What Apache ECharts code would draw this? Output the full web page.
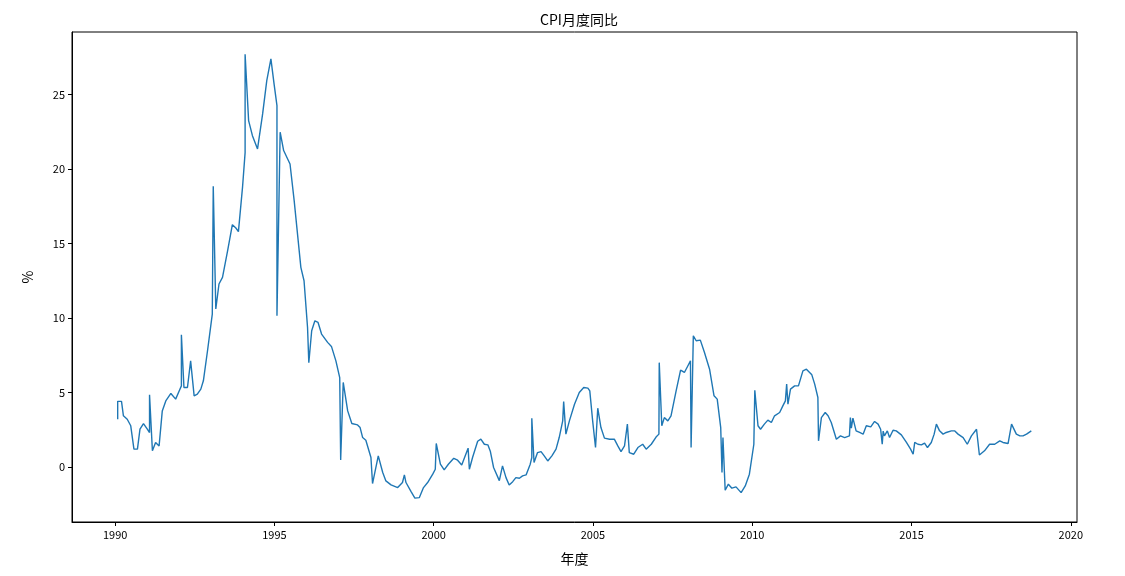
<!DOCTYPE html>
<html>
<head>
<meta charset="utf-8">
<script src="https://cdn.jsdelivr.net/npm/echarts@6/dist/echarts.min.js"></script>
<style>
html,body{margin:0;padding:0;background:#fff;}
#chart{width:1125px;height:576px;}
</style>
</head>
<body>
<div id="chart"></div>
<script>
// decimal-year positions of the monthly observations (as plotted in the source)
const years = [
1990.08,1990.08,1990.20,1990.26,1990.38,1990.49,1990.59,1990.70,1990.78,1990.89,1991.01,
1991.08,1991.08,1991.17,1991.27,1991.38,1991.48,1991.59,1991.75,1991.80,1991.90,1992.01,
1992.08,1992.08,1992.16,1992.27,1992.37,1992.48,1992.58,1992.69,1992.77,1992.90,1993.05,
1993.08,1993.16,1993.26,1993.37,1993.53,1993.68,1993.79,1993.87,1994.00,
1994.08,1994.08,1994.19,1994.31,1994.47,1994.63,1994.76,1994.89,1994.99,
1995.08,1995.08,1995.18,1995.29,1995.49,1995.62,1995.83,1995.93,1996.04,
1996.08,1996.17,1996.27,1996.37,1996.48,1996.67,1996.79,1996.93,1997.05,
1997.08,1997.16,1997.30,1997.43,1997.61,1997.69,1997.77,1997.87,1998.03,
1998.08,1998.26,1998.40,1998.50,1998.66,1998.87,1999.02,
1999.08,1999.13,1999.29,1999.41,1999.55,1999.68,1999.81,1999.97,2000.05,
2000.08,2000.21,2000.33,2000.46,2000.63,2000.75,2000.88,
2001.08,2001.12,2001.22,2001.38,2001.48,2001.59,2001.70,2001.78,2001.88,2002.06,
2002.16,2002.27,2002.37,2002.48,2002.58,2002.69,2002.79,2002.90,2003.03,
2003.08,2003.08,2003.15,2003.26,2003.37,2003.47,2003.58,2003.71,2003.84,2003.94,2004.05,
2004.08,2004.15,2004.26,2004.42,2004.57,2004.71,2004.84,2004.90,2004.99,
2005.08,2005.15,2005.25,2005.36,2005.52,2005.67,2005.78,2005.88,2005.99,
2006.08,2006.14,2006.28,2006.41,2006.56,2006.67,2006.83,2006.98,2007.07,
2007.08,2007.16,2007.24,2007.35,2007.45,2007.61,2007.75,2007.87,2007.98,2008.06,
2008.08,2008.15,2008.24,2008.37,2008.50,2008.66,2008.80,2008.90,2009.01,
2009.05,2009.08,2009.15,2009.25,2009.36,2009.49,2009.65,2009.78,2009.91,2010.05,
2010.08,2010.18,2010.26,2010.38,2010.49,2010.60,2010.70,2010.86,2010.96,2011.04,
2011.08,2011.12,2011.20,2011.33,2011.45,2011.59,2011.70,2011.87,2011.96,2012.06,
2012.08,2012.17,2012.29,2012.38,2012.48,2012.64,2012.77,2012.90,2013.05,
2013.08,2013.11,2013.16,2013.26,2013.37,2013.48,2013.58,2013.72,2013.84,2013.95,2014.03,
2014.08,2014.11,2014.15,2014.24,2014.31,2014.42,2014.52,2014.68,2014.84,2014.97,
2015.05,2015.10,2015.20,2015.31,2015.41,2015.50,2015.62,2015.71,2015.78,2015.88,2015.99,
2016.09,2016.25,2016.35,2016.46,2016.62,2016.75,2016.88,2017.04,
2017.08,2017.13,2017.29,2017.45,2017.61,2017.77,2017.87,2018.03,
2018.14,2018.29,2018.40,2018.50,2018.61,2018.76
];
// CPI year-on-year values, %
const values = [
3.2,4.4,4.4,3.43,3.2,2.76,1.19,1.19,2.53,2.91,2.53,
2.31,4.84,1.08,1.64,1.41,3.76,4.43,4.93,4.93,4.55,5.1,
5.44,8.87,5.33,5.33,7.12,4.77,4.88,5.22,5.78,7.8,10.26,
18.84,10.6,12.28,12.72,14.5,16.26,16.04,15.8,18.8,
21.1,27.7,23.25,22.24,21.35,23.7,25.94,27.4,25.7,
24.26,10.15,22.47,21.24,20.34,17.88,13.4,12.5,9.36,
7.0,9.14,9.81,9.7,8.92,8.36,8.09,7.12,6.0,
0.47,5.67,3.76,2.91,2.82,2.64,1.97,1.79,0.63,
-1.12,0.74,-0.38,-0.94,-1.21,-1.39,-1.05,
-0.54,-1.05,-1.66,-2.1,-2.06,-1.39,-1.05,-0.49,-0.16,
1.57,0.18,-0.2,0.18,0.58,0.45,0.13,
1.26,-0.16,0.63,1.72,1.86,1.52,1.48,1.03,-0.04,-0.92,
0.07,-0.72,-1.21,-0.99,-0.72,-0.76,-0.6,-0.54,0.18,
0.63,3.27,0.29,0.96,1.03,0.74,0.4,0.74,1.19,1.97,3.09,
4.39,2.2,3.09,4.21,4.99,5.33,5.29,5.1,3.09,
1.3,3.94,2.64,1.93,1.86,1.86,1.41,1.03,1.41,
2.87,0.96,0.85,1.3,1.52,1.19,1.52,2.0,2.2,
7.0,2.76,3.31,3.09,3.43,5.1,6.5,6.34,6.79,7.12,
1.3,8.8,8.47,8.51,7.68,6.56,4.77,4.55,2.64,
-0.38,1.97,-1.57,-1.16,-1.43,-1.34,-1.73,-1.28,-0.49,1.52,
5.15,2.76,2.53,2.87,3.14,2.98,3.43,3.65,4.1,4.43,
5.56,4.21,5.22,5.44,5.44,6.45,6.56,6.18,5.56,4.66,
1.75,3.31,3.65,3.43,2.98,1.86,2.08,1.97,2.08,
3.31,2.6,3.27,2.42,2.31,2.2,2.76,2.69,3.05,2.87,2.53,
1.52,2.4,2.08,2.42,1.97,2.46,2.42,2.15,1.64,1.19,
0.85,1.64,1.52,1.48,1.6,1.3,1.64,2.2,2.87,2.42,2.2,
2.31,2.42,2.42,2.2,1.97,1.52,2.08,2.53,
2.53,0.8,1.08,1.52,1.52,1.75,1.64,1.57,
2.87,2.2,2.08,2.08,2.2,2.42
];
const xTicks = [1990,1995,2000,2005,2010,2015,2020];
const yTicks = [0,5,10,15,20,25];

const points = years.map((y, i) => [y, values[i]]);
const font = "'Noto Sans CJK SC', 'DejaVu Sans', sans-serif";

const chart = echarts.init(document.getElementById('chart'), null, {renderer: 'canvas'});
chart.setOption({
  animation: false,
  backgroundColor: '#ffffff',
  title: {
    text: 'CPI月度同比',
    left: 574, top: 8, textAlign: 'center',
    textStyle: {fontFamily: font, fontSize: 14, fontWeight: 'normal', color: '#000'}
  },
  grid: {left: 72, right: 48, top: 32, bottom: 54, show: true, borderColor: '#000', borderWidth: 1, backgroundColor: 'transparent'},
  xAxis: {
    type: 'value', min: 1988.646, max: 2020.194,
    name: '年度', nameLocation: 'middle', nameGap: 30,
    nameTextStyle: {fontFamily: font, fontSize: 14, color: '#000'},
    axisLine: {show: true, onZero: false, lineStyle: {color: '#000', width: 1}},
    axisTick: {show: true, inside: false, length: 4, lineStyle: {color: '#000'}, customValues: xTicks},
    axisLabel: {fontFamily: font, fontSize: 11, color: '#000', margin: 7, customValues: xTicks, formatter: v => String(v)},
    splitLine: {show: false}
  },
  yAxis: {
    type: 'value', min: -3.7, max: 29.2,
    name: '%', nameLocation: 'middle', nameGap: 37, nameRotate: 90,
    nameTextStyle: {fontFamily: font, fontSize: 14, color: '#000'},
    axisLine: {show: true, onZero: false, lineStyle: {color: '#000', width: 1}},
    axisTick: {show: true, inside: false, length: 4, lineStyle: {color: '#000'}, customValues: yTicks},
    axisLabel: {fontFamily: font, fontSize: 11, color: '#000', margin: 7, customValues: yTicks},
    splitLine: {show: false}
  },
  series: [{
    type: 'line',
    data: points,
    showSymbol: false,
    symbol: 'none',
    lineStyle: {color: '#1f77b4', width: 1.4},
    itemStyle: {color: '#1f77b4'}
  }]
});
</script>
</body>
</html>
